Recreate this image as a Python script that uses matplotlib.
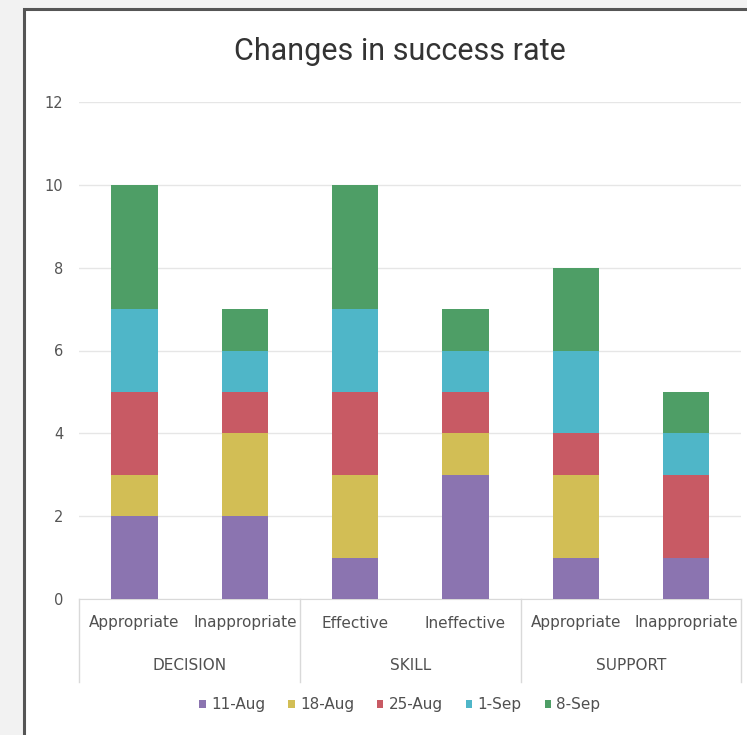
import matplotlib
matplotlib.use("Agg")
import matplotlib.pyplot as plt
from matplotlib.patches import Rectangle
from matplotlib.lines import Line2D
import numpy as np

# ---- data ----
categories = ["Appropriate", "Inappropriate", "Effective", "Ineffective", "Appropriate", "Inappropriate"]
groups = ["DECISION", "SKILL", "SUPPORT"]
group_sizes = [2, 2, 2]
series_names = ["11-Aug", "18-Aug", "25-Aug", "1-Sep", "8-Sep"]
aug11 = [2, 2, 1, 3, 1, 1]
aug18 = [1, 2, 2, 1, 2, 0]
aug25 = [2, 1, 2, 1, 1, 2]
sep1 = [2, 1, 2, 1, 2, 1]
sep8 = [3, 1, 3, 1, 2, 1]
series_values = [aug11, aug18, aug25, sep1, sep8]
colors = ["#8B74B0", "#D2BE55", "#C85A64", "#4FB6C8", "#4E9E66"]
yticks = [0, 2, 4, 6, 8, 10, 12]
title = "Changes in success rate"

W, H = 747, 735
fig = plt.figure(figsize=(W / 100, H / 100), dpi=100)
fig.patch.set_facecolor("#f2f2f2")

# background axes holding the chart frame
bg = fig.add_axes([0, 0, 1, 1], zorder=-5)
bg.set_xlim(0, W)
bg.set_ylim(H, 0)
bg.axis("off")
bg.add_patch(Rectangle((24, 9), W + 50, H + 50, facecolor="white", edgecolor="#555555",
                       linewidth=2.2))

ax_left, ax_right = 79.4 / W, 741.2 / W
ax_bottom, ax_top = 1 - 599 / H, 1 - 102 / H
ax = fig.add_axes([ax_left, ax_bottom, ax_right - ax_left, ax_top - ax_bottom], zorder=2)
ax.set_facecolor("none")

x = np.arange(len(categories))
bottom = np.zeros(len(categories))
for name, vals, c in zip(series_names, series_values, colors):
    ax.bar(x, vals, width=0.42, bottom=bottom, color=c, label=name, zorder=3)
    bottom += np.array(vals)

ax.set_xlim(-0.5, len(categories) - 0.5)
ax.set_ylim(0, 12)
ax.set_yticks(yticks)
ax.set_axisbelow(True)
ax.yaxis.grid(True, color="#e6e6e6", linewidth=1)
for s in ["top", "right", "left"]:
    ax.spines[s].set_visible(False)
ax.spines["bottom"].set_color("#d9d9d9")
ax.tick_params(axis="y", length=0, pad=11.5, labelsize=10.5, labelcolor="#555555")
ax.tick_params(axis="x", length=0, labelbottom=False)

tfont = ["DejaVu Sans"]
unit = 12 / (599 - 102)  # data units per pixel
# category labels
for xi, lab in zip(x, categories):
    ax.text(xi, -(623 - 599) * unit, lab, ha="center", va="center", fontsize=11,
            color="#505050", family=tfont, clip_on=False)

# group labels and separators
start = 0
seps = [-0.5]
for g, n in zip(groups, group_sizes):
    cx = start + (n - 1) / 2
    ax.text(cx, -(665 - 599) * unit, g, ha="center", va="center", fontsize=11,
            color="#505050", family=tfont, clip_on=False)
    start += n
    seps.append(start - 0.5)
for sx in seps:
    ax.add_line(Line2D([sx, sx], [0, -(682 - 599) * unit], color="#d9d9d9", linewidth=1,
                       clip_on=False))

# title
fig.text(400 / W, 1 - 52 / H, title, ha="center", va="center", fontsize=22,
         color="#333333", family=["Liberation Sans Narrow", "DejaVu Sans Condensed", "Roboto"])

# legend
handles = [Rectangle((0, 0), 1, 1, facecolor=c, edgecolor="none") for c in colors]
leg = fig.legend(handles, series_names, loc="center", bbox_to_anchor=(400 / W, 1 - 705 / H),
                 ncol=5, frameon=False, fontsize=11, handlelength=0.42, handleheight=0.42,
                 handletextpad=0.35, columnspacing=1.5, labelcolor="#505050")

fig.savefig("out.png", dpi=100, facecolor=fig.get_facecolor())
